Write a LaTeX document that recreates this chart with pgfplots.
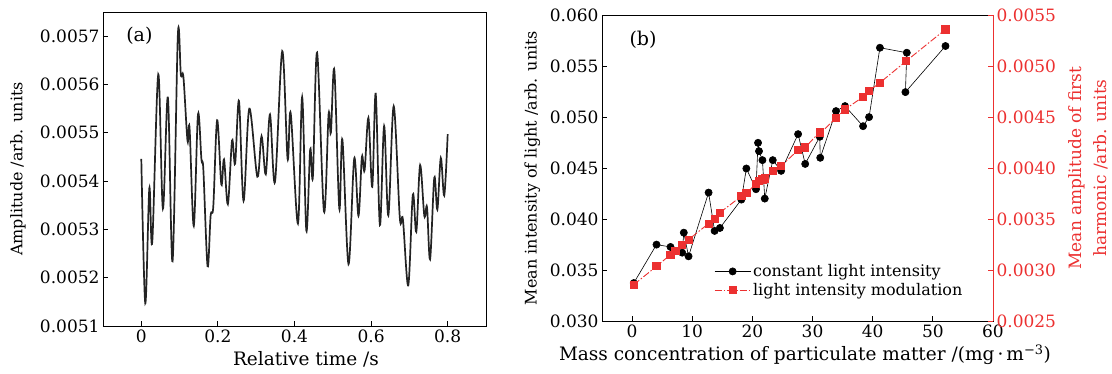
\documentclass[border=0pt]{standalone}
\usepackage{pgfplots}
\pgfplotsset{compat=1.18}
\usepackage{fontspec}
\setmainfont{DejaVu Serif}
\definecolor{myred}{RGB}{236,48,48}
\definecolor{curve}{RGB}{35,35,35}
\pgfplotstableread{
x y
0.28 0.03372
4.06 0.03749
6.39 0.03726
8.33 0.03670
8.60 0.03866
9.39 0.03634
12.72 0.04259
13.72 0.03883
14.60 0.03912
18.17 0.04190
19.00 0.04495
20.60 0.04292
20.94 0.04747
21.10 0.04665
21.67 0.04577
22.06 0.04200
23.39 0.04577
24.78 0.04472
27.60 0.04832
28.78 0.04540
31.20 0.04806
31.28 0.04600
33.90 0.05058
35.40 0.05107
38.40 0.04910
39.40 0.04999
41.20 0.05679
45.67 0.05630
45.44 0.05244
52.10 0.05696
}\blackdata
\pgfplotstableread{
x y
0.28 0.002856
4.06 0.003036
6.39 0.003150
7.22 0.003187
8.33 0.003249
9.39 0.003298
12.72 0.003455
13.72 0.003504
14.60 0.003563
18.17 0.003723
19.00 0.003756
20.60 0.003841
21.10 0.003870
21.67 0.003887
22.06 0.003897
23.39 0.003969
24.78 0.004021
27.60 0.004175
28.78 0.004201
31.20 0.004355
31.28 0.004340
33.90 0.004492
35.40 0.004574
38.40 0.004698
39.40 0.004757
41.20 0.004836
45.56 0.005048
52.10 0.005359
}\reddata
\begin{document}
\begin{tikzpicture}
\path[use as bounding box] (0pt,0pt) rectangle (1112pt,374pt);
\pgfplotsset{every axis/.append style={
  scale only axis,
  font=\fontsize{16}{19}\selectfont,
  tick label style={font=\fontsize{17}{20}\selectfont},
  xlabel style={font=\fontsize{18.5}{22}\selectfont},
  ylabel style={font=\fontsize{16}{24}\selectfont},
  /pgf/number format/assume math mode=true,
  tick align=inside,
  major tick length=5pt,
  axis line style={line width=0.8pt},
  every tick/.style={line width=0.8pt},
  scaled ticks=false,
}}
% ---------- panel (a)
\begin{axis}[
  at={(103pt,48pt)}, anchor=south west,
  width=383pt, height=314pt,
  xmin=-0.1, xmax=0.9, ymin=0.0051, ymax=0.00575,
  xtick={0,0.2,0.4,0.6,0.8},
  ytick={0.0051,0.0052,0.0053,0.0054,0.0055,0.0056,0.0057},
  tick pos=left,
  yticklabel style={/pgf/number format/.cd, fixed, precision=4, zerofill},
  xticklabel style={/pgf/number format/.cd, fixed, precision=1},
  xlabel={Relative time /s},
  ylabel={Amplitude /arb. units},
  xlabel style={at={(axis description cs:0.53,-0.105)}, anchor=center},
  ylabel style={at={(axis description cs:-0.222,0.5)}, anchor=center},
]
\node[anchor=center, font=\fontsize{19}{22}\selectfont] at (rel axis cs:0.095,0.925) {(a)};
\addplot[curve, line width=1.7pt, smooth, tension=0.55] coordinates {
(0,0.005446)(0.0104,0.005147)(0.021,0.005385)(0.0286,0.005274)(0.0443,0.005621)
(0.0564,0.005343)(0.0694,0.005573)(0.0816,0.005234)(0.0955,0.005703)(0.1033,0.00562)
(0.110,0.005615)(0.1207,0.005483)(0.126,0.00551)(0.137,0.005307)(0.148,0.005538)
(0.157,0.005445)(0.162,0.005424)(0.173,0.005224)(0.181,0.005328)(0.188,0.005348)
(0.198,0.005526)(0.209,0.005393)(0.216,0.005445)(0.226,0.005352)(0.237,0.005484)
(0.245,0.005436)(0.255,0.005566)(0.267,0.005359)(0.282,0.00555)(0.303,0.005409)
(0.314,0.005493)(0.325,0.005414)(0.336,0.005538)(0.349,0.005398)(0.368,0.005669)
(0.382,0.005446)(0.39,0.005541)(0.409,0.005312)(0.42,0.005574)(0.431,0.005297)
(0.441,0.005466)(0.448,0.005409)(0.459,0.005666)(0.477,0.005337)(0.489,0.005538)
(0.495,0.0055)(0.504,0.00563)(0.517,0.005343)(0.525,0.005486)(0.541,0.005228)
(0.556,0.005447)(0.567,0.005328)(0.576,0.00545)(0.583,0.005422)(0.593,0.005531)
(0.603,0.005388)(0.612,0.005581)(0.623,0.005309)(0.634,0.005514)(0.645,0.005329)
(0.659,0.005555)(0.675,0.005324)(0.683,0.005321)(0.697,0.005184)(0.709,0.005372)
(0.718,0.005295)(0.728,0.005433)(0.739,0.005328)(0.746,0.005346)(0.754,0.005238)
(0.765,0.005407)(0.773,0.005341)(0.782,0.005448)(0.791,0.00537)(0.8,0.005497)
};
\end{axis}
% ---------- panel (b), left axis
\begin{axis}[
  at={(602pt,53pt)}, anchor=south west,
  width=391pt, height=306pt,
  xmin=-5, xmax=60, ymin=0.030, ymax=0.060,
  xtick={0,10,20,30,40,50,60},
  ytick={0.030,0.035,0.040,0.045,0.050,0.055,0.060},
  tick pos=left,
  yticklabel style={/pgf/number format/.cd, fixed, precision=3, zerofill},
  xlabel={Mass concentration of particulate matter /(mg\,·\,m\textsuperscript{−3})},
  ylabel={Mean intensity of light /arb. units},
  xlabel style={at={(axis description cs:0.519,-0.11)}, anchor=center},
  ylabel style={at={(axis description cs:-0.178,0.5)}, anchor=center},
]
\node[anchor=center, font=\fontsize{19}{22}\selectfont] at (rel axis cs:0.105,0.92) {(b)};
\addplot[black, line width=0.6pt, mark=*, mark size=3.6pt] table[x=x,y=y] {\blackdata};
\end{axis}
% ---------- panel (b), right axis
\begin{axis}[
  at={(602pt,53pt)}, anchor=south west,
  width=391pt, height=306pt,
  xmin=-5, xmax=60, ymin=0.0025, ymax=0.0055,
  axis x line=none, axis y line*=right,
  ytick={0.0025,0.0030,0.0035,0.0040,0.0045,0.0050,0.0055},
  yticklabel style={myred, /pgf/number format/.cd, fixed, precision=4, zerofill},
  y axis line style={myred},
  ytick style={myred},
  ylabel={Mean amplitude of first\\harmonic /arb. units},
  ylabel style={myred, align=center, font=\fontsize{17}{25}\selectfont,
    at={(axis description cs:1.243,0.5)}, anchor=center, rotate=0},
  legend cell align=left,
  legend style={at={(0.935,0.065)}, anchor=south east, draw=none, fill=none,
    font=\fontsize{16}{19}\selectfont, row sep=1pt},
  legend image code/.code={
    \draw[#1] (0pt,0pt) -- (36pt,0pt);
    \draw[#1, only marks] plot coordinates {(18pt,0pt)};
  },
]
\addlegendimage{black, line width=0.6pt, mark=*, mark size=3.6pt}
\addlegendentry{constant light intensity}
\addplot[myred, line width=0.9pt, dash pattern=on 7pt off 2pt on 1.5pt off 2pt,
  mark=square*, mark size=3.6pt, mark options={solid}] table[x=x,y=y] {\reddata};
\addlegendentry{light intensity modulation}
\end{axis}
\end{tikzpicture}
\end{document}
